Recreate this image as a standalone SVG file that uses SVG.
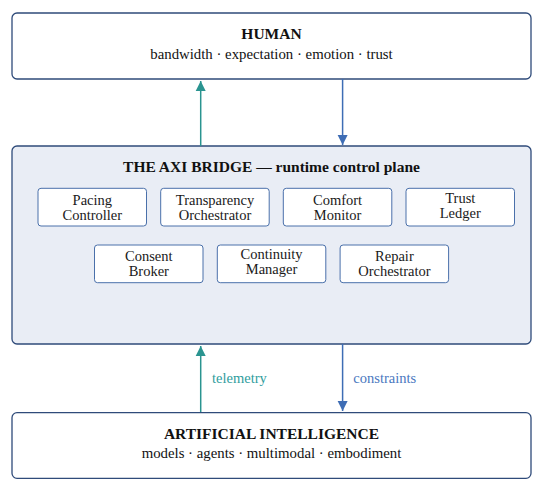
<svg xmlns="http://www.w3.org/2000/svg" width="543" height="487" viewBox="0 0 543 487">
<defs>
<style>
text{font-family:'Liberation Serif','Times New Roman',Times,serif}
.outer{fill:#ffffff;stroke:#2f4b7a;stroke-width:1.3}
.bridge{fill:#e9edf5;stroke:#2f4b7a;stroke-width:1.3}
.sub{fill:#ffffff;stroke:#4a70aa;stroke-width:1}
.title{font-weight:bold;font-size:15.5px;fill:#111111;text-anchor:middle}
.subt{font-size:14.8px;fill:#111111;text-anchor:middle}
.lbl{font-size:14.5px;fill:#1a1a1a;text-anchor:middle}
.tl{stroke:#2a9490;stroke-width:1.5;fill:none}
.bl{stroke:#3e6db5;stroke-width:1.5;fill:none}
.elab{font-size:14.5px}
</style>
<marker id="ah-teal" viewBox="0 0 10 12" refX="10" refY="6" markerWidth="10" markerHeight="12" markerUnits="userSpaceOnUse" orient="auto"><path d="M0,1 L10,6 L0,11 Z" fill="#2a9490"/></marker>
<marker id="ah-blue" viewBox="0 0 10 12" refX="10" refY="6" markerWidth="10" markerHeight="12" markerUnits="userSpaceOnUse" orient="auto"><path d="M0,1 L10,6 L0,11 Z" fill="#3e6db5"/></marker>
</defs>
<rect width="543" height="487" fill="#ffffff"/>
<g id="human">
<rect class="outer" x="12" y="13" width="519" height="66" rx="5"/>
<text class="title" x="271.5" y="39.3" font-family="Liberation Serif">HUMAN</text>
<text class="subt" x="271.5" y="59" font-family="Liberation Serif">bandwidth · expectation · emotion · trust</text>
</g>
<g id="bridge">
<rect class="bridge" x="12" y="146" width="519" height="198" rx="5"/>
<text class="title" x="271.5" y="172">THE AXI BRIDGE — runtime control plane</text>
</g>
<g id="pacing-controller">
<rect class="sub" x="38" y="188.3" width="108.5" height="37.7" rx="3"/>
<text class="lbl" x="92.3" y="205">Pacing</text>
<text class="lbl" x="92.3" y="219.5">Controller</text>
</g>
<g id="transparency-orchestrator">
<rect class="sub" x="160.7" y="188.3" width="108.5" height="37.7" rx="3"/>
<text class="lbl" x="215" y="205">Transparency</text>
<text class="lbl" x="215" y="219.5">Orchestrator</text>
</g>
<g id="comfort-monitor">
<rect class="sub" x="283.3" y="188.3" width="108.5" height="37.7" rx="3"/>
<text class="lbl" x="337.6" y="205">Comfort</text>
<text class="lbl" x="337.6" y="220">Monitor</text>
</g>
<g id="trust-ledger">
<rect class="sub" x="406" y="188.3" width="108.5" height="37.7" rx="3"/>
<text class="lbl" x="460.3" y="202.7">Trust</text>
<text class="lbl" x="460.3" y="217.7">Ledger</text>
</g>
<g id="consent-broker">
<rect class="sub" x="94.5" y="245" width="108.5" height="37.7" rx="3"/>
<text class="lbl" x="148.8" y="260.7">Consent</text>
<text class="lbl" x="148.8" y="276">Broker</text>
</g>
<g id="continuity-manager">
<rect class="sub" x="217.3" y="245" width="108.5" height="37.7" rx="3"/>
<text class="lbl" x="271.5" y="259.3">Continuity</text>
<text class="lbl" x="271.5" y="274.3">Manager</text>
</g>
<g id="repair-orchestrator">
<rect class="sub" x="340.1" y="245" width="108.5" height="37.7" rx="3"/>
<text class="lbl" x="394.4" y="260.7">Repair</text>
<text class="lbl" x="394.4" y="276">Orchestrator</text>
</g>
<g id="ai">
<rect class="outer" x="12" y="412.7" width="519" height="65.6" rx="5"/>
<text class="title" x="271.5" y="439.3">ARTIFICIAL INTELLIGENCE</text>
<text class="subt" x="271.5" y="458.3">models · agents · multimodal · embodiment</text>
</g>
<g id="connectors">
<line class="tl" x1="200.7" y1="146" x2="200.7" y2="81" marker-end="url(#ah-teal)"/>
<line class="bl" x1="342.6" y1="79" x2="342.6" y2="145" marker-end="url(#ah-blue)"/>
<line class="tl" x1="200.7" y1="412" x2="200.7" y2="346" marker-end="url(#ah-teal)"/>
<line class="bl" x1="342.6" y1="344" x2="342.6" y2="411" marker-end="url(#ah-blue)"/>
<text class="elab" x="212.1" y="382.5" fill="#2f9d9d">telemetry</text>
<text class="elab" x="353.3" y="383.3" fill="#4a78c0">constraints</text>
</g>
</svg>
